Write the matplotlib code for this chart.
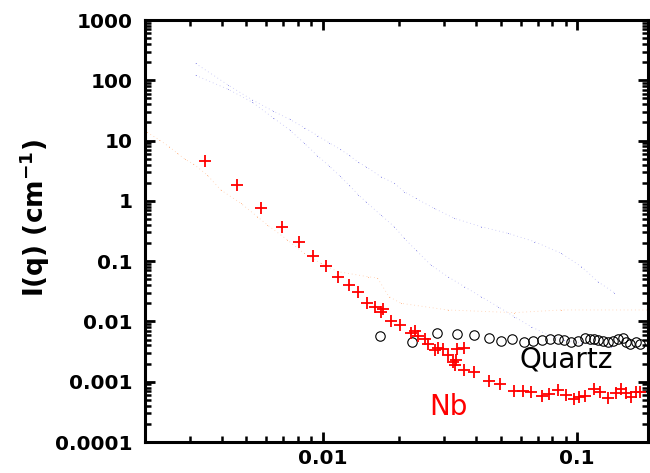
import numpy as np
import matplotlib
matplotlib.use('Agg')
import matplotlib.pyplot as plt
from matplotlib.ticker import LogLocator, FixedLocator, FuncFormatter, NullFormatter

# Nb sample (red crosses)
nb_q = [0.00343, 0.00458, 0.00574, 0.00692, 0.00804, 0.00913, 0.0103, 0.01146, 0.01262, 0.01377,
        0.0149, 0.0160, 0.0169, 0.0173, 0.0185, 0.0201, 0.0222, 0.0230, 0.0236, 0.0252,
        0.0260, 0.0277, 0.0283, 0.0296, 0.0310, 0.0324, 0.0334, 0.0331, 0.0337, 0.0360,
        0.0360, 0.0392, 0.0449, 0.0499, 0.0566, 0.0611, 0.0659, 0.0726, 0.0774, 0.0840,
        0.0905, 0.0970, 0.1021, 0.1078, 0.117, 0.1235, 0.132, 0.1416, 0.149, 0.156,
        0.163, 0.1706, 0.1774]
nb_I = [4.59, 1.86, 0.762, 0.365, 0.208, 0.122, 0.0841, 0.0553, 0.0407, 0.0305,
        0.0200, 0.0172, 0.0145, 0.0159, 0.0103, 0.00875, 0.00637, 0.00703, 0.00575, 0.00513,
        0.00419, 0.00337, 0.00368, 0.00354, 0.00278, 0.00215, 0.00230, 0.00190, 0.00346, 0.00360,
        0.00157, 0.00147, 0.00103, 0.00091, 0.000712, 0.000712, 0.000685, 0.000582, 0.000621, 0.000731,
        0.000604, 0.000519, 0.000566, 0.000582, 0.000751, 0.000685, 0.000532, 0.000659, 0.000751, 0.000659,
        0.000566, 0.000685, 0.000685]

# Quartz (open circles)
qz_q = [0.0168, 0.0225, 0.0281, 0.0337, 0.0392, 0.0449, 0.0502, 0.0555, 0.0617, 0.0673,
        0.0726, 0.0785, 0.0840, 0.0891, 0.0946, 0.101, 0.107, 0.112, 0.116, 0.121,
        0.126, 0.132, 0.138, 0.1445, 0.1513, 0.156, 0.162, 0.1697, 0.1774]
qz_I = [0.00582, 0.00462, 0.00652, 0.00614, 0.00597, 0.00526, 0.00481, 0.00513, 0.00462, 0.00481,
        0.00493, 0.00513, 0.00513, 0.00493, 0.00462, 0.00481, 0.00526, 0.00513, 0.00513, 0.00493,
        0.00481, 0.00462, 0.00475, 0.00507, 0.00526, 0.00462, 0.00424, 0.00462, 0.00419]

# faint reference curves
blue1_q = [0.00316, 0.00424, 0.00529, 0.00637, 0.00741, 0.00847, 0.00953, 0.01059, 0.0117, 0.0127,
           0.01377, 0.0148, 0.0169, 0.0191, 0.0209, 0.0232, 0.0274, 0.0329, 0.0419, 0.0534,
           0.0679, 0.0865, 0.104, 0.1206, 0.140]
blue1_I = [191, 83.5, 47.1, 31.0, 22.5, 16.4, 12.1, 9.2, 7.17, 5.7,
           4.37, 3.69, 2.52, 1.96, 1.42, 1.10, 0.753, 0.514, 0.373, 0.290,
           0.211, 0.135, 0.081, 0.0457, 0.030]

blue2_q = [0.00316, 0.00424, 0.00529, 0.00637, 0.00741, 0.00847, 0.00953, 0.01059, 0.0117, 0.0127,
           0.01377, 0.0148, 0.0169, 0.0191, 0.0209, 0.0232, 0.0266, 0.031, 0.0360, 0.0419,
           0.0488, 0.0566, 0.0659, 0.0768, 0.0891, 0.104, 0.136]
blue2_I = [121, 71, 43.2, 24, 15, 9.0, 5.6, 3.8, 2.56, 1.81,
           1.27, 0.96, 0.583, 0.373, 0.240, 0.153, 0.0865, 0.0553, 0.0378, 0.0258,
           0.0176, 0.0120, 0.0082, 0.00597, 0.00493, 0.00435, 0.00382]

orange_q = [0.00204, 0.00228, 0.00249, 0.00268, 0.00287, 0.0031, 0.00351, 0.00397, 0.00476, 0.00553,
            0.00606, 0.00726, 0.00844, 0.0098, 0.01146, 0.0150, 0.0164, 0.0182, 0.0203, 0.031,
            0.0565, 0.0865, 0.19]
orange_I = [13.7, 10.2, 7.9, 6.15, 4.9, 4.1, 2.69, 1.52, 0.912, 0.547,
            0.398, 0.225, 0.135, 0.0923, 0.067, 0.0553, 0.0526, 0.0258, 0.020, 0.0155,
            0.014, 0.0155, 0.0155]

x_major = [0.01, 0.1]
y_major = [1e-4, 1e-3, 1e-2, 1e-1, 1, 10, 100, 1000]

fig = plt.figure(figsize=(6.5, 4.73), dpi=100)
ax = fig.add_axes([0.2231, 0.0655, 0.7739, 0.8922])

# faint dotted curves, with the sampled points a touch darker
for q, I in [(blue1_q, blue1_I), (blue2_q, blue2_I)]:
    ax.plot(q, I, color='#c4c4f6', lw=0.6, ls=(0, (1, 3.5)))
    ax.plot(q, I, '.', color='#8f8fe6', ms=1.5, mew=0)
ax.plot(orange_q, orange_I, color='#ffcfae', lw=0.6, ls=(0, (1, 3.5)))
ax.plot(orange_q, orange_I, '.', color='#ffb585', ms=1.5, mew=0)

ax.plot(qz_q, qz_I, 'o', mfc='none', mec='black', ms=6.8, mew=0.8)
ax.plot(nb_q, nb_I, '+', color='red', ms=8.5, mew=1.3)

ax.set_xscale('log')
ax.set_yscale('log')
ax.set_xlim(0.002, 0.19)
ax.set_ylim(1e-4, 1e3)

ax.xaxis.set_major_locator(FixedLocator(x_major))
ax.yaxis.set_major_locator(FixedLocator(y_major))
ax.yaxis.set_minor_locator(LogLocator(base=10, subs=np.arange(2, 10), numticks=100))
ax.xaxis.set_minor_locator(LogLocator(base=10, subs=np.arange(2, 10), numticks=100))
fmt = FuncFormatter(lambda v, p: '%g' % v)
ax.xaxis.set_major_formatter(fmt)
ax.yaxis.set_major_formatter(fmt)
ax.xaxis.set_minor_formatter(NullFormatter())
ax.yaxis.set_minor_formatter(NullFormatter())

ax.tick_params(which='both', direction='in', top=True, right=True)
ax.tick_params(which='major', length=7, width=2)
ax.tick_params(which='minor', length=4, width=1.8)
ax.tick_params(axis='y', which='major', pad=9)
ax.tick_params(axis='x', which='major', pad=5)
for lab in ax.get_xticklabels() + ax.get_yticklabels():
    lab.set_fontfamily('DejaVu Sans')
    lab.set_fontweight('bold')
    lab.set_fontsize(14.5)
for s in ax.spines.values():
    s.set_linewidth(2.2)

ax.set_ylabel('I(q) (cm$^{\\mathbf{-1}}$)', fontsize=19, fontweight='bold')
ax.yaxis.set_label_coords(-0.185, 0.53)

ax.text(0.0591, 0.0017, 'Quartz', fontsize=20, color='black')
ax.text(0.0261, 0.00028, 'Nb', fontsize=20, color='red')

fig.savefig('out.png', dpi=100)
